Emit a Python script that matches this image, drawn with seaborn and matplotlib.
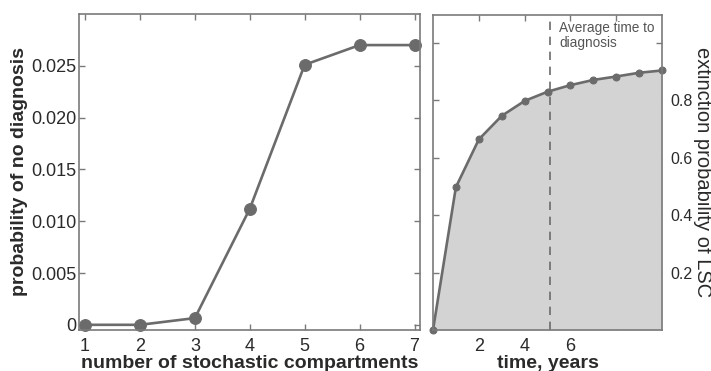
import matplotlib
matplotlib.use("Agg")
import matplotlib.pyplot as plt
import seaborn as sns
import pandas as pd

# left panel data
compartments = [1, 2, 3, 4, 5, 6, 7]
prob_no_diag = [0.0, 0.0, 0.00065, 0.0112, 0.0251, 0.0270, 0.0270]

# right panel data
years = [0, 1, 2, 3, 4, 5, 6, 7, 8, 9, 10]
extinction = [0.0, 0.497, 0.663, 0.745, 0.797, 0.829, 0.852, 0.870, 0.882, 0.895, 0.903]
avg_diag_time = 5.12

sns.set_style("white")
plt.rcParams['font.family'] = ['Liberation Sans', 'DejaVu Sans']

line_col = "#6b6b6b"
spine_col = "#7a7a7a"
text_col = "#2a2a2a"

fig = plt.figure(figsize=(7.11, 3.71), dpi=100)
ax1 = fig.add_axes([79 / 711, 41 / 371, 341 / 711, 316 / 371])
ax2 = fig.add_axes([433 / 711, 41 / 371, 229 / 711, 315 / 371])

df1 = pd.DataFrame({"n": compartments, "p": prob_no_diag})
sns.lineplot(data=df1, x="n", y="p", ax=ax1, color=line_col, linewidth=1.9,
             marker="o", markersize=8.5, markeredgecolor=line_col, clip_on=False)
ax1.set_xlim(0.89, 7.1)
ax1.set_ylim(-0.0005, 0.030)
ax1.set_xticks(compartments)
ax1.set_yticks([0, 0.005, 0.010, 0.015, 0.020, 0.025])
ax1.set_yticklabels(["0", "0.005", "0.010", "0.015", "0.020", "0.025"])
ax1.set_xlabel("number of stochastic compartments", fontsize=14, fontweight="bold",
               color=text_col, labelpad=0)
ax1.set_ylabel("probability of no diagnosis", fontsize=14, fontweight="bold",
               color=text_col, labelpad=2)

df2 = pd.DataFrame({"t": years, "e": extinction})
ax2.fill_between(df2["t"], 0, df2["e"], color="#d3d3d3", linewidth=0)
sns.lineplot(data=df2, x="t", y="e", ax=ax2, color=line_col, linewidth=1.9,
             marker="o", markersize=5, markeredgecolor=line_col, clip_on=False)
ax2.axvline(avg_diag_time, color=line_col, linestyle=(0, (5, 4)), linewidth=1.2)
ax2.text(avg_diag_time + 0.4, 1.075, "Average time to\ndiagnosis", fontsize=9.8,
         color="#555555", va="top", ha="left", linespacing=1.1)
ax2.set_xlim(0, 10)
ax2.set_ylim(0, 1.096)
ax2.set_xticks([2, 4, 6, 8])
ax2.set_xticklabels(["2", "4", "6", ""])
ax2.set_yticks([0.2, 0.4, 0.6, 0.8, 1.0])
ax2.set_yticklabels(["0.2", "0.4", "0.6", "0.8", ""])
ax2.yaxis.tick_right()
ax2.set_xlabel("time, years", fontsize=14, fontweight="bold", color=text_col, labelpad=0)
ax2.set_ylabel("extinction probability of LSC", fontsize=14.5, color=text_col,
               rotation=270, va="center", ha="center")
ax2.yaxis.set_label_coords(1.178, 0.5)

for ax in (ax1, ax2):
    for s in ax.spines.values():
        s.set_visible(True)
        s.set_color(spine_col)
        s.set_linewidth(1.2)
    ax.tick_params(direction="in", length=4, width=1.0, color=spine_col,
                   labelsize=13, labelcolor=text_col, top=True, bottom=True,
                   left=True, right=True)
ax1.tick_params(axis="x", pad=6)
ax1.tick_params(axis="y", pad=2)
ax2.tick_params(axis="x", pad=6)
ax2.tick_params(axis="y", pad=6, labelsize=11.5)

fig.savefig("out.png", dpi=100, facecolor="white")
